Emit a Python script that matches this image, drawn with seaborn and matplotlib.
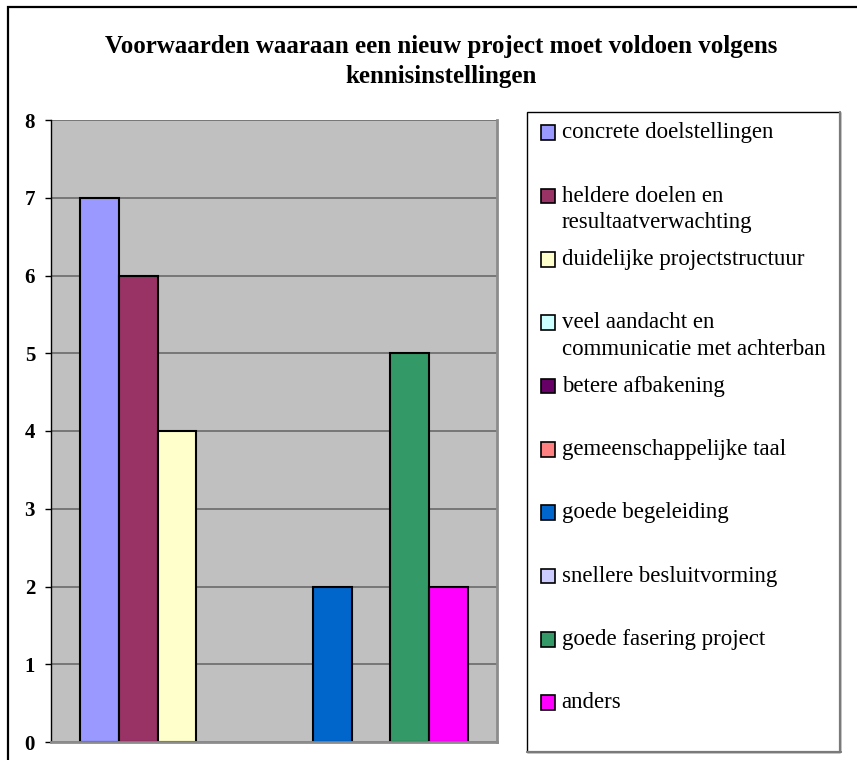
import numpy as np
import pandas as pd
import matplotlib
matplotlib.use("Agg")
import matplotlib.pyplot as plt
import matplotlib.patches as mpatches
from matplotlib.lines import Line2D
from matplotlib.legend_handler import HandlerPatch
import seaborn as sns

# data
categories = [
    "concrete doelstellingen",
    "heldere doelen en resultaatverwachting",
    "duidelijke projectstructuur",
    "veel aandacht en communicatie met achterban",
    "betere afbakening",
    "gemeenschappelijke taal",
    "goede begeleiding",
    "snellere besluitvorming",
    "goede fasering project",
    "anders",
]
legend_labels = [
    "concrete doelstellingen\n",
    "heldere doelen en\nresultaatverwachting",
    "duidelijke projectstructuur\n",
    "veel aandacht en\ncommunicatie met achterban",
    "betere afbakening\n",
    "gemeenschappelijke taal\n",
    "goede begeleiding\n",
    "snellere besluitvorming\n",
    "goede fasering project\n",
    "anders\n",
]
values = [7, 6, 4, 0, 0, 0, 2, 0, 5, 2]
colors = ["#9999FF", "#993366", "#FFFFCC", "#CCFFFF", "#660066",
          "#FF8080", "#0066CC", "#CCCCFF", "#339966", "#FF00FF"]
y_ticks = [0, 1, 2, 3, 4, 5, 6, 7, 8]
title = "Voorwaarden waaraan een nieuw project moet voldoen volgens\nkennisinstellingen"

df = pd.DataFrame({"groep": ["alle"] * len(categories),
                   "categorie": categories, "aantal": values})

sns.set_style("white")
plt.rcParams["font.family"] = ["Liberation Serif", "DejaVu Serif"]
plt.rcParams["text.color"] = "black"
plt.rcParams["ytick.color"] = "black"

W, H = 857, 760
fig = plt.figure(figsize=(W / 100, H / 100), dpi=100)
ax = fig.add_axes([51 / W, 18 / H, 446 / W, 622 / H])
ax.set_facecolor("#C0C0C0")

sns.barplot(data=df, x="groep", y="aantal", hue="categorie",
            hue_order=categories, palette=colors, width=0.87,
            edgecolor="black", linewidth=1.5, saturation=1,
            legend=False, ax=ax)
for p in ax.patches:
    if p.get_height() == 0:
        p.set_edgecolor("none")

ax.set_xlim(-0.5, 0.5)
ax.set_ylim(0, 8)
ax.set_xticks([])
ax.set_yticks(y_ticks)
ax.set_xlabel("")
ax.set_ylabel("")
ax.tick_params(axis="y", left=True, length=4.5, width=1, color="black",
               pad=7, labelsize=15)
for t in ax.get_yticklabels():
    t.set_fontweight("bold")
ax.yaxis.grid(True, color="#6a6a6a", linewidth=1.2)
ax.set_axisbelow(True)
ax.spines["top"].set_visible(False)
ax.spines["left"].set_color("black")
ax.spines["left"].set_linewidth(1)
for s in ["right", "bottom"]:
    ax.spines[s].set_color("#8c8c8c")
    ax.spines[s].set_linewidth(2)

fig.text(441 / W, 1 - 61.5 / H, title, ha="center", va="center",
         fontsize=18, fontweight="bold", linespacing=1.4)


def top_box(legend, orig_handle, xdescent, ydescent, width, height, fontsize):
    return mpatches.Rectangle((-xdescent, -ydescent + 0.58 * fontsize), width, height)


handles = [mpatches.Patch(facecolor=c, edgecolor="black", linewidth=1.2) for c in colors]
leg = fig.legend(handles, legend_labels, loc="upper left",
                 bbox_to_anchor=(530 / W, 1 - 111 / H),
                 borderaxespad=0, fontsize=16.5,
                 handlelength=0.6, handleheight=0.6, handletextpad=0.28,
                 labelspacing=0.7, borderpad=0.5, frameon=False,
                 handler_map={mpatches.Patch: HandlerPatch(patch_func=top_box)})
for t in leg.get_texts():
    t.set_linespacing(1.33)

# legend frame: black top/left, grey right/bottom
fig.patches.append(mpatches.Rectangle((527 / W, 1 - 752 / H), 313 / W, 640 / H,
                                      transform=fig.transFigure, fill=False,
                                      edgecolor="black", linewidth=1))
fig.lines.append(Line2D([840 / W, 840 / W], [1 - 112 / H, 1 - 752 / H],
                        transform=fig.transFigure, color="#7a7a7a", linewidth=1.6))
fig.lines.append(Line2D([527 / W, 841 / W], [1 - 751.5 / H, 1 - 751.5 / H],
                        transform=fig.transFigure, color="#7a7a7a", linewidth=1.6))

# outer chart border (runs off the right and bottom edges)
fig.patches.append(mpatches.Rectangle((8 / W, -0.05), 1, 1 + 0.05 - 7 / H,
                                      transform=fig.transFigure, fill=False,
                                      edgecolor="black", linewidth=1.6))

fig.savefig("out.png", dpi=100)
